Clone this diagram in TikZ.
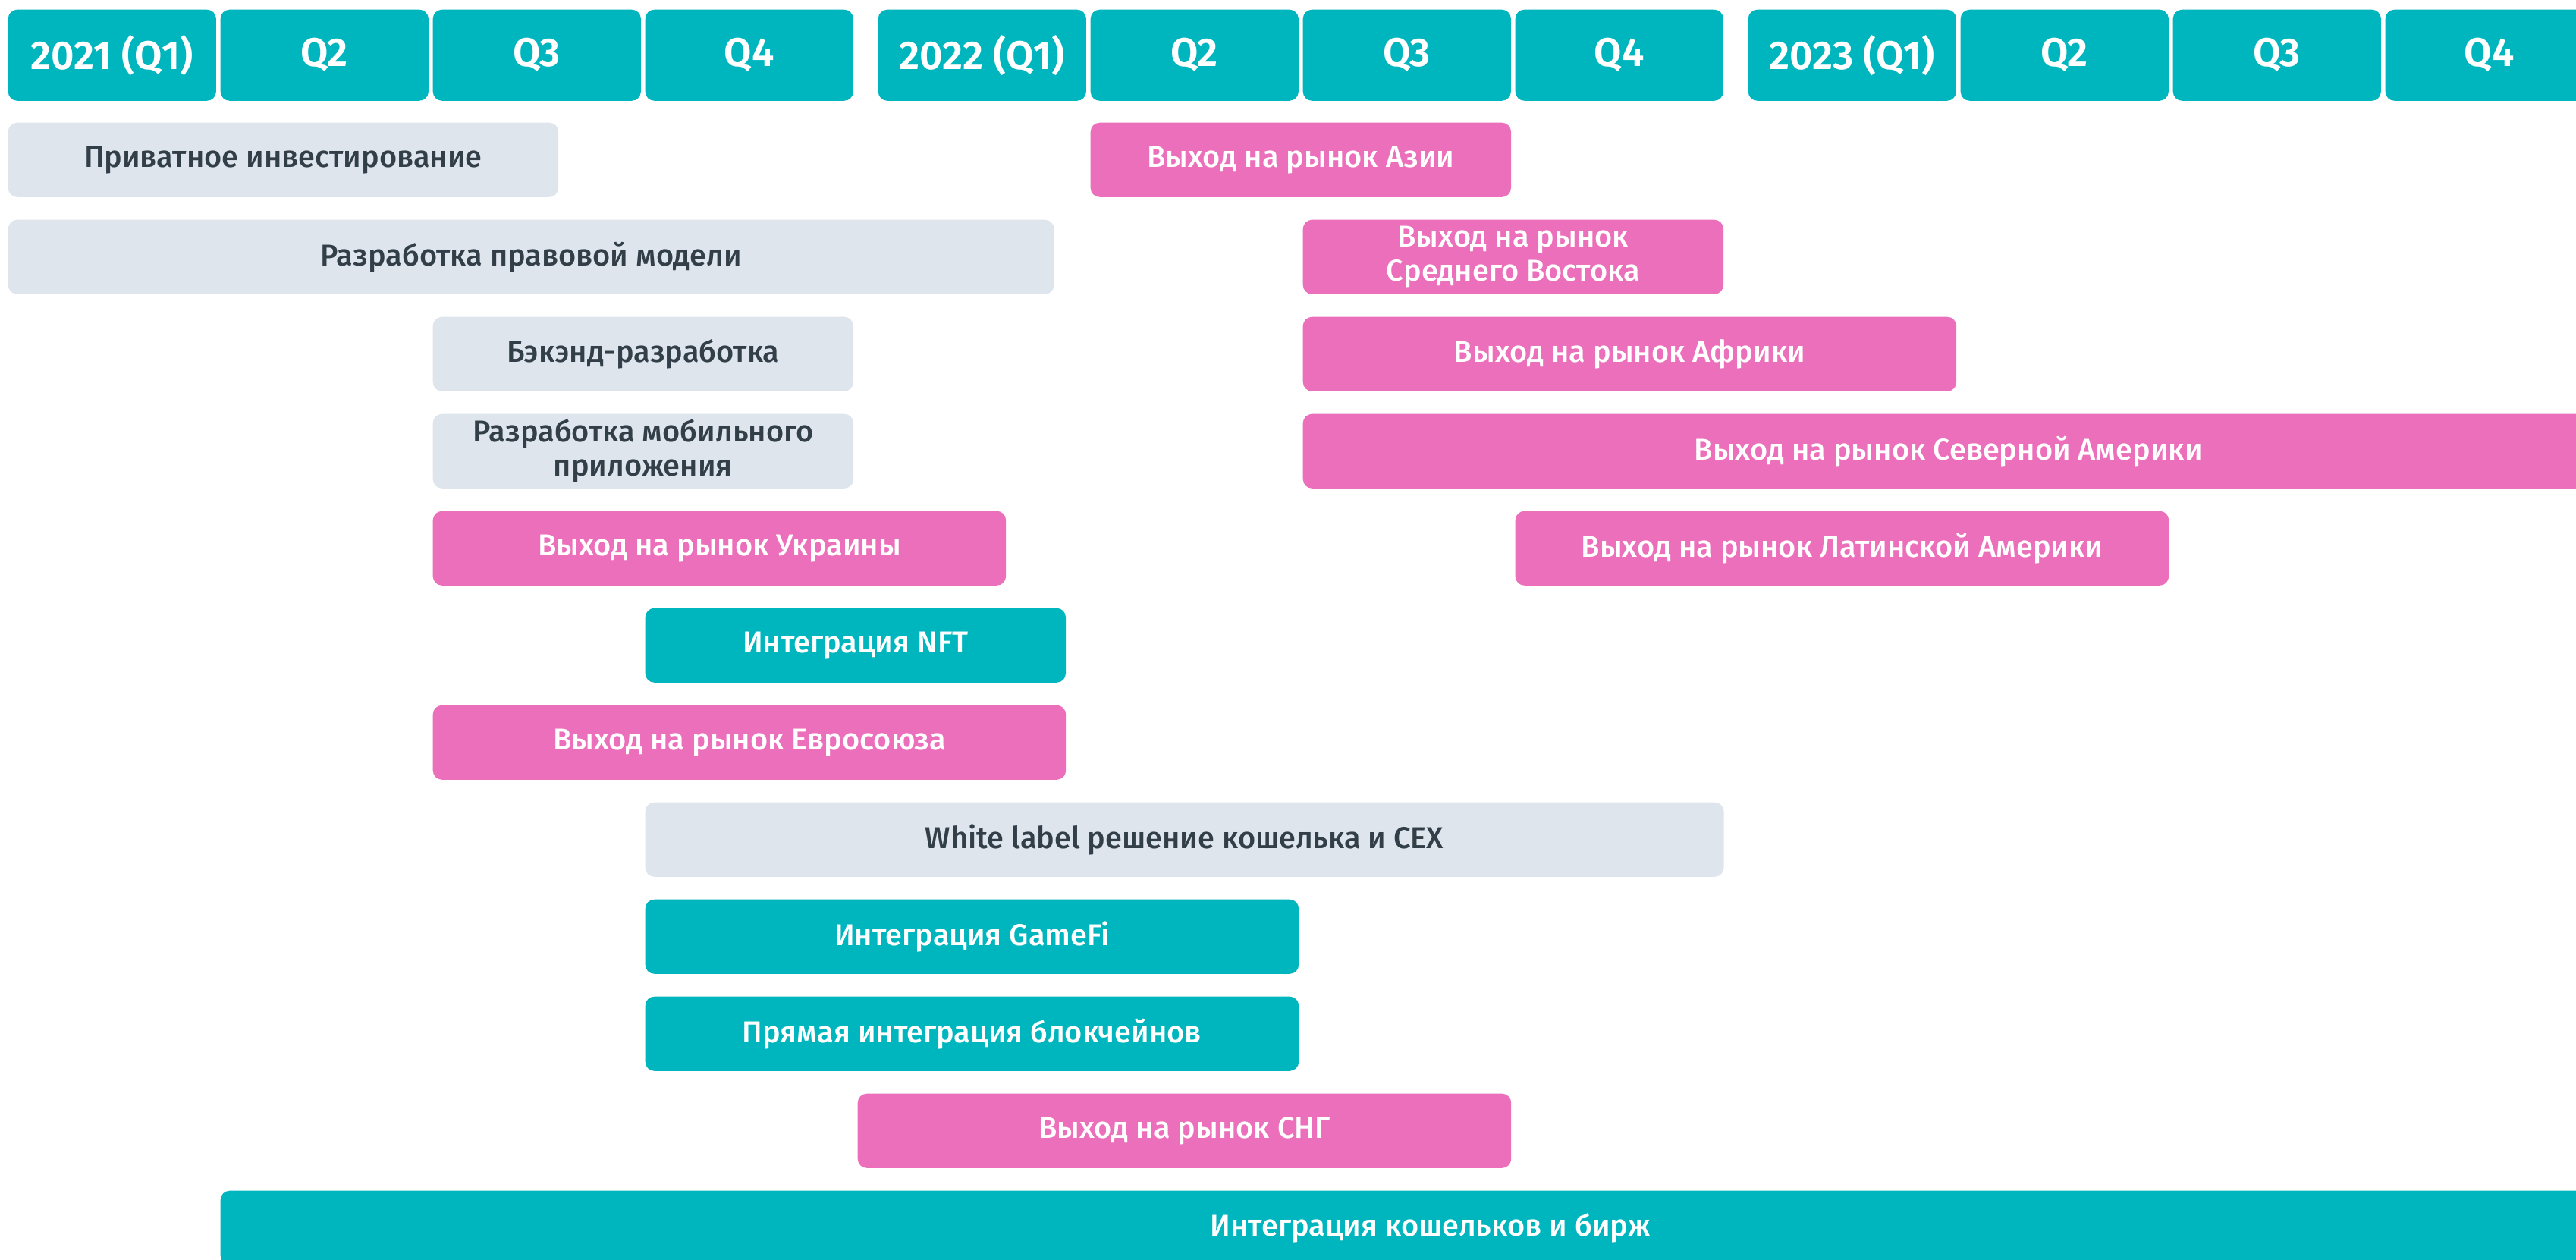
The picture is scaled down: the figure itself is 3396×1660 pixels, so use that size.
\documentclass[tikz,border=0pt]{standalone}
\usepackage{fontspec}
\setmainfont{Fira Sans Medium}[BoldFont={Fira Sans SemiBold}]
\usepackage{color}

\definecolor{rmteal}{RGB}{0,182,190}
\definecolor{rmpink}{RGB}{235,111,186}
\definecolor{rmgrey}{RGB}{222,229,237}
\definecolor{rmtext}{RGB}{50,62,72}

\begin{document}
\begin{tikzpicture}[x=0.01cm, y=-0.01cm,
    bar/.style={anchor=north west, rounded corners=0.12cm, minimum height=0.98cm,
      inner sep=0pt, align=center, font=\fontsize{11.3}{12.8}\selectfont},
    head/.style={bar, fill=rmteal, text=white, minimum width=2.74cm,
      minimum height=1.2cm, font=\fontsize{15}{17}\selectfont\bfseries},
    greybar/.style={bar, fill=rmgrey, text=rmtext},
    pinkbar/.style={bar, fill=rmpink, text=white},
    tealbar/.style={bar, fill=rmteal, text=white}]
	\useasboundingbox (0,0) rectangle (3396,1660);
	\clip (0,0) rectangle (3396,1660);
	\fill[white] (0,0) rectangle (3396,1660);

            % quarters, three years
            \foreach \yr in {0,1,2}{
              \foreach \q in {0,...,3}{
                \node[head] (h\yr\q) at ({10+\yr*1147+\q*280},12)
                  {\ifnum\q=0 \the\numexpr2021+\yr\relax\ (Q1)\else Q\the\numexpr\q+1\relax\fi};
              }
            }

            % left column of tasks
            \node[greybar, minimum width=7.25cm] (invest) at (10,161) {Приватное инвестирование};
            \node[greybar, minimum width=13.78cm] (legal) at (10,289) {Разработка правовой модели};
            \node[greybar, minimum width=5.54cm] (backend) at (570,417) {Бэкэнд-разработка};
            \node[greybar, minimum width=5.54cm] (mobile) at (570,545) {Разработка мобильного\\приложения};
            \node[pinkbar, minimum width=7.55cm] (ukraine) at (570,673) {Выход на рынок Украины};
            \node[tealbar, minimum width=5.54cm] (nft) at (850,801) {Интеграция NFT};
            \node[pinkbar, minimum width=8.34cm] (eu) at (570,929) {Выход на рынок Евросоюза};
            \node[greybar, minimum width=14.21cm] (wlabel) at (850,1057) {White label решение кошелька и CEX};
            \node[tealbar, minimum width=8.61cm] (gamefi) at (850,1185) {Интеграция GameFi};
            \node[tealbar, minimum width=8.61cm] (chains) at (850,1313) {Прямая интеграция блокчейнов};
            \node[pinkbar, minimum width=8.61cm] (cis) at (1130,1441) {Выход на рынок СНГ};
            \node[tealbar, minimum width=31.88cm] (wallets) at (290,1569) {Интеграция кошельков и бирж};

            % markets, right side
            \node[pinkbar, minimum width=5.54cm] (asia) at (1437,161) {Выход на рынок Азии};
            \node[pinkbar, minimum width=5.54cm] (mideast) at (1717,289) {Выход на рынок\\Среднего Востока};
            \node[pinkbar, minimum width=8.61cm] (africa) at (1717,417) {Выход на рынок Африки};
            \node[pinkbar, minimum width=17.01cm] (namerica) at (1717,545) {Выход на рынок Северной Америки};
            \node[pinkbar, minimum width=8.61cm] (latam) at (1997,673) {Выход на рынок Латинской Америки};

\end{tikzpicture}
\end{document}
